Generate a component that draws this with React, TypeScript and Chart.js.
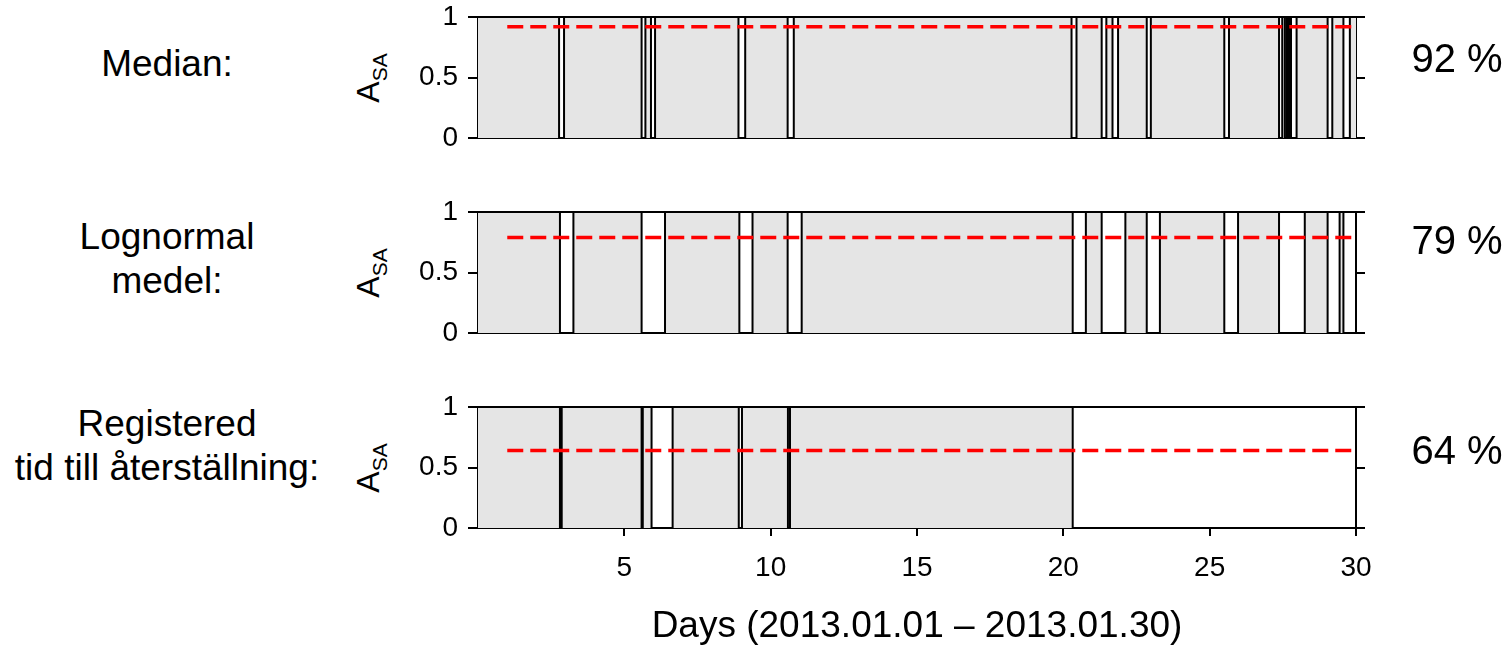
import React, { useEffect, useRef } from "react";
import { Chart, registerables } from "chart.js";

Chart.register(...registerables);

const FONT = '"Liberation Sans", Arial, Helvetica, sans-serif';

// ---------- data ----------
const panelLabels = [["Median:"], ["Lognormal", "medel:"], ["Registered", "tid till återställning:"]];
const availabilityPct = [92, 79, 64];

const medianOutageStart = [2.77, 5.59, 5.91, 8.9, 10.58, 20.28, 21.31, 21.68, 22.85, 25.5, 27.37, 27.57, 27.7, 27.78, 29.03, 29.57];
const medianOutageEnd = [2.94, 5.72, 6.05, 9.13, 10.79, 20.45, 21.47, 21.87, 22.99, 25.66, 27.48, 27.64, 27.74, 27.97, 29.19, 29.79];

const lognormalOutageStart = [2.8, 5.59, 8.93, 10.58, 20.32, 21.31, 22.85, 25.5, 27.37, 29.03, 29.57];
const lognormalOutageEnd = [3.26, 6.39, 9.38, 11.06, 20.77, 22.12, 23.3, 25.97, 28.25, 29.44, 30.0];

const registeredOutageStart = [2.8, 5.59, 5.93, 8.91, 10.59, 20.32];
const registeredOutageEnd = [2.86, 5.63, 6.65, 9.02, 10.66, 30.0];

const outageStarts = [medianOutageStart, lognormalOutageStart, registeredOutageStart];
const outageEnds = [medianOutageEnd, lognormalOutageEnd, registeredOutageEnd];

const dayTicks = [5, 10, 15, 20, 25, 30];
const availabilityTicks = [0, 0.5, 1];
const dayMin = 0;
const dayMax = 30;
const meanLineStartDay = 1;
const xAxisTitle = "Days (2013.01.01 – 2013.01.30)";
const yTitleMain = "A";
const yTitleSub = "SA";

// ---------- layout ----------
const CANVAS_LEFT = 400;
const CANVAS_WIDTH = 1000;
const LEFT_AXIS_W = 78;
const RIGHT_AXIS_W = 44;
const TOP_AXIS_H = 17;
const PLOT_H = 121;
const panelCanvasTop = [0, 195, 390];
const panelBottomAxisH = [17, 17, 121];
const labelTops = [42, 215, 402];
const labelLineH = 44;
const pctCenters = [58, 240, 450];
const yTitleCenterX = 371;

function Panel({ idx }: { idx: number }) {
  const ref = useRef<HTMLCanvasElement | null>(null);
  const isLast = idx === 2;
  const height = TOP_AXIS_H + PLOT_H + panelBottomAxisH[idx];

  useEffect(() => {
    const starts = outageStarts[idx];
    const ends = outageEnds[idx];
    const steps: { x: number; y: number }[] = [{ x: dayMin, y: 1 }];
    starts.forEach((s, i) => {
      steps.push({ x: s, y: 0 });
      steps.push({ x: ends[i], y: 1 });
    });
    if (steps[steps.length - 1].x < dayMax) steps.push({ x: dayMax, y: steps[steps.length - 1].y });

    const mean = availabilityPct[idx] / 100;
    const meanPts = [
      { x: meanLineStartDay, y: mean },
      { x: dayMax, y: mean },
    ];

    const setTicks = (vals: number[]) => (s: any) => {
      s.ticks = vals.map((v) => ({ value: v }));
    };

    const axisGrid = (len: number) => ({
      display: true,
      drawOnChartArea: false,
      drawTicks: true,
      tickLength: len,
      color: "#000",
      lineWidth: 2,
    });
    const border = { display: true, color: "#000", width: 2 };
    const plain = (v: any) => `${v}`;

    const chart = new Chart(ref.current as HTMLCanvasElement, {
      type: "line",
      data: {
        datasets: [
          {
            data: meanPts,
            xAxisID: "x",
            yAxisID: "y",
            borderColor: "#ff0000",
            borderDash: [16, 7],
            borderWidth: 3.5,
            pointRadius: 0,
            fill: false,
            order: 0,
          },
          {
            data: steps,
            xAxisID: "x",
            yAxisID: "y",
            stepped: true,
            borderColor: "#000",
            borderWidth: 2,
            backgroundColor: "#e5e5e5",
            fill: "origin",
            pointRadius: 0,
            order: 1,
          },
        ],
      } as any,
      options: {
        responsive: false,
        animation: false,
        events: [],
        layout: { padding: 0 },
        plugins: {
          legend: { display: false },
          tooltip: { enabled: false },
          title: { display: false },
        },
        scales: {
          x: {
            type: "linear",
            position: "bottom",
            min: dayMin,
            max: dayMax,
            afterBuildTicks: setTicks(dayTicks),
            grid: isLast ? axisGrid(8) : { display: false },
            border,
            ticks: {
              display: isLast,
              color: "#000",
              padding: 15,
              maxRotation: 0,
              callback: plain,
              font: { family: FONT, size: 28 },
            },
            title: {
              display: isLast,
              text: xAxisTitle,
              color: "#000",
              font: { family: FONT, size: 37 },
              padding: { top: 0, bottom: 0 },
            },
            afterFit: (s: any) => {
              s.height = panelBottomAxisH[idx];
              s.paddingLeft = 0;
              s.paddingRight = 0;
            },
          },
          xTop: {
            type: "linear",
            position: "top",
            min: dayMin,
            max: dayMax,
            grid: { display: false },
            ticks: { display: false },
            border,
            afterFit: (s: any) => {
              s.height = TOP_AXIS_H;
              s.paddingLeft = 0;
              s.paddingRight = 0;
            },
          },
          y: {
            type: "linear",
            position: "left",
            min: 0,
            max: 1,
            afterBuildTicks: setTicks(availabilityTicks),
            grid: axisGrid(10),
            border,
            ticks: {
              color: "#000",
              padding: 10,
              callback: plain,
              font: { family: FONT, size: 28 },
            },
            afterFit: (s: any) => {
              s.width = LEFT_AXIS_W;
              s.paddingTop = 0;
              s.paddingBottom = 0;
            },
          },
          yRight: {
            type: "linear",
            position: "right",
            min: 0,
            max: 1,
            afterBuildTicks: setTicks(availabilityTicks),
            grid: axisGrid(9),
            border,
            ticks: { display: false },
            afterFit: (s: any) => {
              s.width = RIGHT_AXIS_W;
              s.paddingTop = 0;
              s.paddingBottom = 0;
            },
          },
        },
      } as any,
    });
    return () => chart.destroy();
  }, [idx]);

  return (
    <canvas
      ref={ref}
      width={CANVAS_WIDTH}
      height={height}
      style={{
        position: "absolute",
        left: CANVAS_LEFT,
        top: panelCanvasTop[idx],
        width: CANVAS_WIDTH,
        height,
      }}
    />
  );
}

export default function App() {
  return (
    <div
      style={{
        position: "absolute",
        left: 0,
        top: 0,
        width: 1512,
        height: 649,
        background: "#fff",
        fontFamily: FONT,
        color: "#000",
        overflow: "hidden",
      }}
    >
      {[0, 1, 2].map((i) => (
        <React.Fragment key={i}>
          <Panel idx={i} />
          <div
            style={{
              position: "absolute",
              left: 0,
              top: labelTops[i],
              width: 334,
              textAlign: "center",
              fontSize: 37,
              lineHeight: `${labelLineH}px`,
              whiteSpace: "nowrap",
            }}
          >
            {panelLabels[i].map((t, k) => (
              <div key={k}>{t}</div>
            ))}
          </div>
          <div
            style={{
              position: "absolute",
              left: 1457 - 70,
              width: 140,
              top: pctCenters[i] - 22,
              textAlign: "center",
              fontSize: 40,
              lineHeight: "44px",
              whiteSpace: "nowrap",
            }}
          >
            {availabilityPct[i]} %
          </div>
          <div
            style={{
              position: "absolute",
              left: yTitleCenterX,
              top: panelCanvasTop[i] + TOP_AXIS_H + PLOT_H / 2,
              transform: "translate(-50%, -50%) rotate(-90deg)",
              fontSize: 32,
              lineHeight: 1,
              whiteSpace: "nowrap",
            }}
          >
            {yTitleMain}
            <sub style={{ fontSize: 21, lineHeight: 1 }}>{yTitleSub}</sub>
          </div>
        </React.Fragment>
      ))}
    </div>
  );
}
